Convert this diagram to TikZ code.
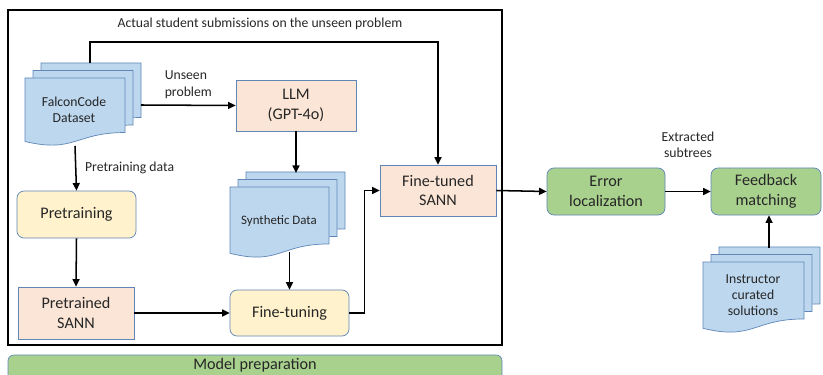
\documentclass[tikz,border=0pt]{standalone}
\usepackage{fontspec}
\setmainfont{Carlito}
\usetikzlibrary{arrows.meta, positioning}
\definecolor{docblue}{RGB}{189,215,238}
\definecolor{peach}{RGB}{251,229,214}
\definecolor{paleyellow}{RGB}{255,242,204}
\definecolor{leafgreen}{RGB}{169,209,142}
\definecolor{edgeblue}{RGB}{96,134,184}
\definecolor{inkgray}{RGB}{38,38,38}

\newcommand{\boxfont}{\fontsize{13.8}{16.6}\selectfont}
\newcommand{\lblfont}{\fontsize{11.7}{13.8}\selectfont}

% one page of a document stack: left, top, width, height (in px)
\newcommand{\docpage}[4]{%
  \filldraw[docpage] (#1,#2) -- (#1+#3,#2) -- (#1+#3,#2+0.802*#4)
    .. controls (#1+0.5*#3,#2+0.802*#4) and (#1+0.5*#3,#2+1.107*#4) .. (#1,#2+0.934*#4) -- cycle;}
\newcommand{\docstack}[4]{%
  \docpage{#1+16}{#2-15}{#3}{#4}
  \docpage{#1+8}{#2-7.5}{#3}{#4}
  \docpage{#1}{#2}{#3}{#4}}

\begin{document}
\begin{tikzpicture}[x=0.03cm, y=-0.03cm,
    docpage/.style={fill=docblue, draw=edgeblue, line width=0.6pt},
    box/.style={draw=edgeblue, line width=0.6pt, align=center, font=\boxfont, text=inkgray, inner sep=2pt},
    modelbox/.style={box, fill=peach},
    stagebox/.style={box, fill=paleyellow, rounded corners=6pt},
    greenbox/.style={box, fill=leafgreen, rounded corners=6pt},
    lbl/.style={font=\lblfont, align=center, text=inkgray},
    arr/.style={-{Triangle[length=6.5pt, width=6pt]}, line width=1.3pt}]
    \useasboundingbox (0,0) rectangle (823,375);

    % model preparation frame
    \draw[line width=2pt] (8,10) rectangle (502,345);
    \node[lbl] (title) at (260,24) {Actual student submissions on the unseen problem};

    % document stacks
    \docstack{25}{78}{100}{68}
    \docstack{230}{187}{99}{71}
    \docstack{703}{262}{101}{71}
    \node[lbl] (falcon) at (74,110) {FalconCode\\Dataset};
    \node[lbl, font=\fontsize{11}{13}\selectfont] (synth) at (279,221) {Synthetic Data};
    \node[lbl] (instr) at (753,295) {Instructor\\curated\\solutions};
    \coordinate (falcontop) at (90,63);
    \coordinate (falconright) at (141,105);
    \coordinate (falconbot) at (75,146);
    \coordinate (synthtop) at (296,173);
    \coordinate (synthbot) at (289.5,252);
    \coordinate (instrtop) at (769,248);

    % boxes
    \node[modelbox, minimum width=3.6cm, minimum height=1.53cm] (llm) at (296,105.5) {LLM\\(GPT-4o)};
    \node[stagebox, minimum width=3.57cm, minimum height=1.41cm] (pretrain) at (76.5,214.5) {Pretraining};
    \node[modelbox, minimum width=3.48cm, minimum height=1.56cm] (pretrained) at (76,313) {Pretrained\\SANN};
    \node[stagebox, minimum width=3.57cm, minimum height=1.38cm] (finetune) at (289.5,313) {Fine-tuning};
    \node[modelbox, minimum width=3.48cm, minimum height=1.53cm] (finetuned) at (438,190.5) {Fine-tuned\\SANN};
    \node[greenbox, minimum width=3.54cm, minimum height=1.41cm] (errloc) at (606,191.5) {Error\\localization};
    \node[greenbox, minimum width=3.3cm, minimum height=1.41cm] (feedback) at (766,191.5) {Feedback\\matching};

    % model preparation bar (runs past the lower edge)
    \filldraw[fill=leafgreen, draw=edgeblue, line width=0.6pt, rounded corners=5pt] (8,355) rectangle (502,390);
    \node[box, draw=none] (prep) at (255,365.5) {Model preparation};

    % connectors
    \draw[arr] (falcontop) -- ++(0,-21) -| (finetuned.north);
    \draw[arr] (falconright) -- (llm.west) node[lbl, midway, above=2pt, align=left] {Unseen\\problem};
    \draw[arr] (falconbot) -- (pretrain.north) node[lbl, midway, right=4pt] {Pretraining data};
    \draw[arr] (llm.south) -- (synthtop);
    \draw[arr] (synthbot) -- (finetune.north);
    \draw[arr] (pretrain.south) -- (pretrained.north);
    \draw[arr] (pretrained.east) -- (finetune.west);
    \draw[arr] (finetune.east) -- ++(15,0) |- (finetuned.west);
    \draw[arr] (finetuned.east) -- (errloc.west);
    \draw[arr] (errloc.east) -- (feedback.west) node[lbl, midway, above=25pt] {Extracted\\subtrees};
    \draw[arr] (instrtop) -- (instrtop |- feedback.south);
\end{tikzpicture}
\end{document}
